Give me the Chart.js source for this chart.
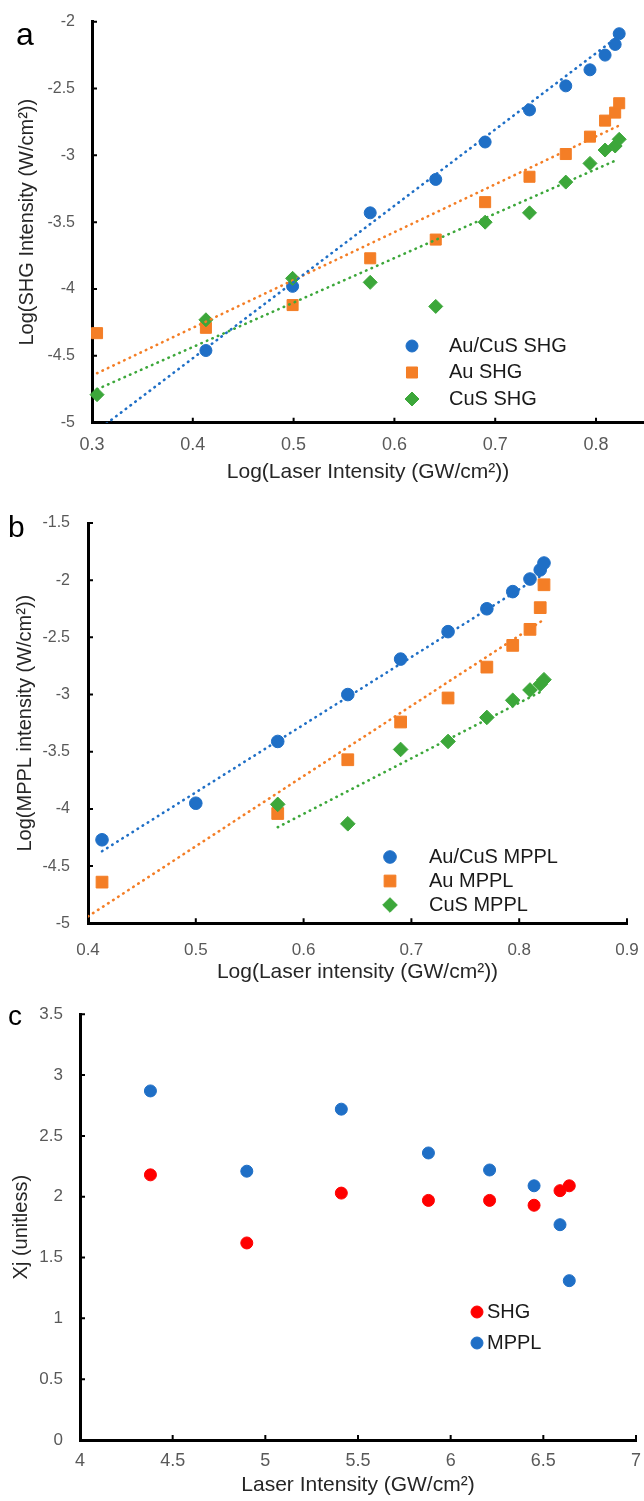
<!DOCTYPE html>
<html>
<head>
<meta charset="utf-8">
<title>SHG / MPPL intensity</title>
<script src="https://cdn.jsdelivr.net/npm/chart.js@4.4.1/dist/chart.umd.min.js"></script>
<style>
  body { margin: 0; background: #fff; width: 644px; height: 1501px; overflow: hidden; position: relative; }
  canvas { position: absolute; left: 0; }
</style>
</head>
<body>
<canvas id="chartA" width="644" height="485" style="top:0px"></canvas>
<canvas id="chartB" width="644" height="490" style="top:495px"></canvas>
<canvas id="chartC" width="644" height="503" style="top:995px"></canvas>
<script>
const FONT = '"Liberation Sans", Arial, Helvetica, sans-serif';
const TICK_GREY = "#595959";
const TITLE_COLOR = "#262626";
const BLUE = "#1f6fc6";
const ORANGE = "#f47e26";
const GREEN = "#3ca73a";
const RED = "#ff0000";

// panel a - SHG
const aLogLaser = [0.305, 0.413, 0.499, 0.576, 0.641, 0.690, 0.734, 0.770, 0.794, 0.809, 0.819, 0.823];
const aAuCuSShg = [null, -4.46, -3.98, -3.43, -3.18, -2.90, -2.66, -2.48, -2.36, -2.25, -2.17, -2.09];
const aAuShg = [-4.33, -4.29, -4.12, -3.77, -3.63, -3.35, -3.16, -2.99, -2.86, -2.74, -2.68, -2.61];
const aCuSShg = [-4.79, -4.23, -3.92, -3.95, -4.13, -3.50, -3.43, -3.20, -3.06, -2.96, -2.93, -2.88];
const aFitX = [0.305, 0.822];
const aFitAuCuS = [-5.06, -2.11];
const aFitAu = [-4.63, -2.78];
const aFitCuS = [-4.75, -3.03];
const aXTicks = [0.3, 0.4, 0.5, 0.6, 0.7, 0.8];
const aYTicks = [-5, -4.5, -4, -3.5, -3, -2.5, -2];

// panel b - MPPL
const bLogLaser = [0.413, 0.500, 0.576, 0.641, 0.690, 0.734, 0.770, 0.794, 0.810, 0.8195, 0.823];
const bAuCuSMppl = [-4.27, -3.95, -3.41, -3.00, -2.69, -2.45, -2.25, -2.10, -1.99, -1.91, -1.85];
const bAuMppl = [-4.64, null, -4.04, -3.57, -3.24, -3.03, -2.76, -2.57, -2.43, -2.24, -2.04];
const bCuSMppl = [null, null, -3.96, -4.13, -3.48, -3.41, -3.20, -3.05, -2.96, -2.91, -2.87];
const bFitAuCuSX = [0.413, 0.822];
const bFitAuCuS = [-4.37, -1.95];
const bFitAuX = [0.400, 0.822];
const bFitAu = [-4.94, -2.35];
const bFitCuSX = [0.576, 0.822];
const bFitCuS = [-4.16, -2.965];
const bXTicks = [0.4, 0.5, 0.6, 0.7, 0.8, 0.9];
const bYTicks = [-5, -4.5, -4, -3.5, -3, -2.5, -2, -1.5];

// panel c - Xj
const cLaser = [4.38, 4.90, 5.41, 5.88, 6.21, 6.45, 6.59, 6.64];
const cShg = [2.18, 1.62, 2.03, 1.97, 1.97, 1.93, 2.05, 2.09];
const cMppl = [2.87, 2.21, 2.72, 2.36, 2.22, 2.09, 1.77, 1.31];
const cXTicks = [4, 4.5, 5, 5.5, 6, 6.5, 7];
const cYTicks = [0, 0.5, 1, 1.5, 2, 2.5, 3, 3.5];

function toPoints(xs, ys) {
    return xs.map((x, i) => ({ x: x, y: ys[i] })).filter(p => p.y !== null);
}

function markerSet(label, xs, ys, color, style, radius, order) {
    return {
        label: label,
        data: toPoints(xs, ys),
        backgroundColor: color,
        borderColor: color,
        pointStyle: style,
        pointRadius: radius,
        pointBorderWidth: 1,
        showLine: false,
        clip: false,
        order: order,
        inLegend: true
    };
}

function fitSet(xs, ys, color) {
    return {
        data: toPoints(xs, ys),
        borderColor: color,
        backgroundColor: color,
        borderWidth: 2.6,
        borderDash: [0.5, 5.5],
        borderCapStyle: "round",
        showLine: true,
        fill: false,
        pointRadius: 0,
        clip: 0,
        order: 0,
        inLegend: false
    };
}

function axis(horizontal, min, max, tickValues, size, tickFont, tickPad, title) {
    return {
        type: "linear",
        min: min,
        max: max,
        afterBuildTicks: s => { s.ticks = tickValues.map(v => ({ value: v })); },
        afterFit: s => {
            if (horizontal) { s.height = size; } else { s.width = size; }
            // the plot area is fixed, so label overflow must not shrink it
            s.paddingLeft = 0;
            s.paddingRight = 0;
            s.paddingTop = 0;
            s.paddingBottom = 0;
        },
        grid: { display: false, drawTicks: false },
        border: { display: true, color: "#000", width: 3 },
        ticks: {
            color: TICK_GREY,
            font: { family: FONT, size: tickFont },
            padding: tickPad,
            autoSkip: false,
            maxRotation: 0,
            callback: v => String(v)
        },
        title: {
            display: true,
            text: title,
            color: TITLE_COLOR,
            font: { family: FONT, size: horizontal ? 21 : 20 },
            padding: 0
        }
    };
}

// short tick marks pointing into the plot, like the spreadsheet original
const innerTicks = {
    id: "innerTicks",
    beforeDatasetsDraw(chart) {
        const { ctx, chartArea, scales } = chart;
        ctx.save();
        ctx.strokeStyle = "#000";
        ctx.lineWidth = 2;
        ctx.beginPath();
        scales.x.ticks.forEach(t => {
            const px = scales.x.getPixelForValue(t.value);
            ctx.moveTo(px, chartArea.bottom);
            ctx.lineTo(px, chartArea.bottom - 5);
        });
        scales.y.ticks.forEach(t => {
            const py = scales.y.getPixelForValue(t.value);
            ctx.moveTo(chartArea.left, py);
            ctx.lineTo(chartArea.left + 5, py);
        });
        ctx.stroke();
        ctx.restore();
    }
};

function drawMarker(ctx, style, r, x, y, color) {
    ctx.fillStyle = color;
    ctx.strokeStyle = color;
    ctx.lineWidth = 1;
    ctx.beginPath();
    if (style === "rect") {
        const s = r * Math.SQRT1_2;
        ctx.rect(x - s, y - s, 2 * s, 2 * s);
    } else if (style === "rectRot") {
        ctx.moveTo(x - r, y);
        ctx.lineTo(x, y - r);
        ctx.lineTo(x + r, y);
        ctx.lineTo(x, y + r);
        ctx.closePath();
    } else {
        ctx.arc(x, y, r, 0, Math.PI * 2);
    }
    ctx.fill();
    ctx.stroke();
}

// panel letter and the legend that sits inside the plot
function decor(cfg) {
    return {
        id: "decor",
        afterDraw(chart) {
            const ctx = chart.ctx;
            ctx.save();
            ctx.fillStyle = "#000";
            ctx.font = `${cfg.letterSize}px ${FONT}`;
            ctx.textBaseline = "alphabetic";
            ctx.textAlign = "left";
            ctx.fillText(cfg.letter, cfg.letterX, cfg.letterY);

            ctx.font = `20px ${FONT}`;
            ctx.textBaseline = "middle";
            chart.data.datasets.filter(d => d.inLegend).forEach((d, i) => {
                const y = cfg.legendY + i * cfg.legendRow;
                drawMarker(ctx, d.pointStyle, d.pointRadius, cfg.markerX, y, d.backgroundColor);
                ctx.fillStyle = "#1a1a1a";
                ctx.fillText(d.label, cfg.textX, y);
            });
            ctx.restore();
        }
    };
}

function makeChart(id, cfg) {
    return new Chart(document.getElementById(id), {
        type: "scatter",
        data: { datasets: cfg.datasets },
        options: {
            responsive: false,
            animation: false,
            events: [],
            layout: { padding: cfg.padding, autoPadding: false },
            plugins: { legend: { display: false }, tooltip: { enabled: false } },
            scales: { x: cfg.x, y: cfg.y }
        },
        plugins: [innerTicks, decor(cfg.decor)]
    });
}

const chartA = makeChart("chartA", {
    datasets: [
        fitSet(aFitX, aFitAuCuS, BLUE),
        fitSet(aFitX, aFitAu, ORANGE),
        fitSet(aFitX, aFitCuS, GREEN),
        markerSet("Au/CuS SHG", aLogLaser, aAuCuSShg, BLUE, "circle", 6, 3),
        markerSet("Au SHG", aLogLaser, aAuShg, ORANGE, "rect", 7.8, 2),
        markerSet("CuS SHG", aLogLaser, aCuSShg, GREEN, "rectRot", 7, 1)
    ],
    padding: { left: 15, top: 21.7, right: 0, bottom: 0 },
    x: axis(true, 0.3, 0.8476, aXTicks, 62.3, 18, 12, "Log(Laser Intensity (GW/cm²))"),
    y: axis(false, -5, -2, aYTicks, 77, 16, 17, "Log(SHG Intensity (W/cm²))"),
    decor: { letter: "a", letterSize: 32, letterX: 16, letterY: 45, markerX: 412, textX: 449, legendY: 346, legendRow: 26.5 }
});

const chartB = makeChart("chartB", {
    datasets: [
        fitSet(bFitAuCuSX, bFitAuCuS, BLUE),
        fitSet(bFitAuX, bFitAu, ORANGE),
        fitSet(bFitCuSX, bFitCuS, GREEN),
        markerSet("Au/CuS MPPL", bLogLaser, bAuCuSMppl, BLUE, "circle", 6.3, 3),
        markerSet("Au MPPL", bLogLaser, bAuMppl, ORANGE, "rect", 8.3, 2),
        markerSet("CuS MPPL", bLogLaser, bCuSMppl, GREEN, "rectRot", 7.3, 1)
    ],
    padding: { left: 13, top: 28, right: 17, bottom: 0 },
    x: axis(true, 0.4, 0.9, bXTicks, 61.7, 17, 16.5, "Log(Laser intensity (GW/cm²))"),
    y: axis(false, -5, -1.5, bYTicks, 75, 16, 18, "Log(MPPL intensity (W/cm²))"),
    decor: { letter: "b", letterSize: 30, letterX: 8, letterY: 42, markerX: 390, textX: 429, legendY: 362, legendRow: 24 }
});

const chartC = makeChart("chartC", {
    datasets: [
        markerSet("SHG", cLaser, cShg, RED, "circle", 6, 1),
        markerSet("MPPL", cLaser, cMppl, BLUE, "circle", 6, 2)
    ],
    padding: { left: 9, top: 19.3, right: 8, bottom: 0 },
    x: axis(true, 4, 7, cXTicks, 58, 18, 10, "Laser Intensity (GW/cm²)"),
    y: axis(false, 0, 3.5, cYTicks, 71, 17, 17, "Xj (unitless)"),
    decor: { letter: "c", letterSize: 28, letterX: 8, letterY: 30, markerX: 477, textX: 487, legendY: 317, legendRow: 31 }
});

console.log(chartA.chartArea, chartB.chartArea, chartC.chartArea);
</script>
</body>
</html>
